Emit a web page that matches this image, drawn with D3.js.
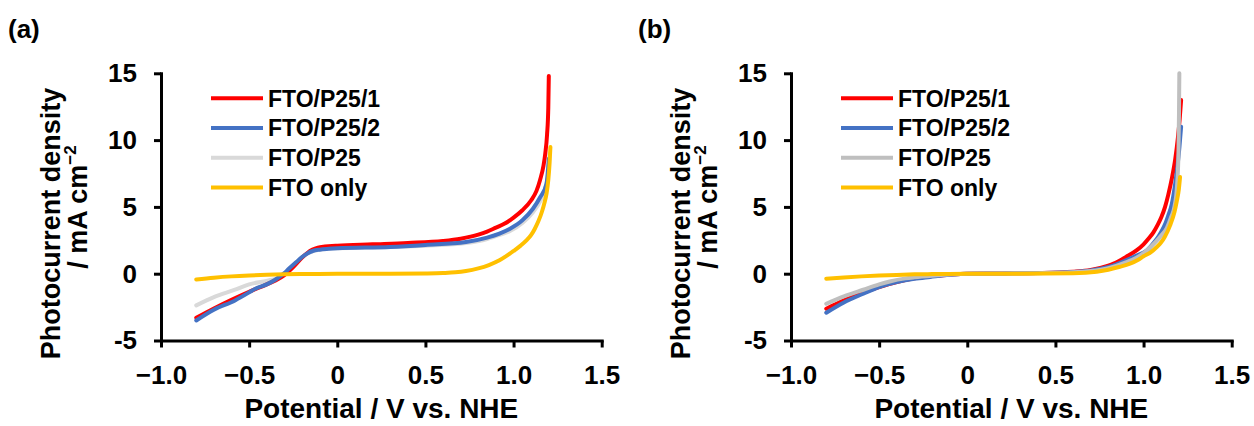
<!DOCTYPE html>
<html>
<head>
<meta charset="utf-8">
<script src="https://cdn.jsdelivr.net/npm/d3@7"></script>
<style>
  html, body { margin: 0; padding: 0; background: #fff; }
  svg { display: block; }
  text { font-family: "Liberation Sans", Arial, sans-serif; font-weight: bold; fill: #000; }
</style>
</head>
<body>
<svg id="chart" width="1254" height="426"></svg>
<script>
// Linear sweep voltammetry curves: [potential (V vs. NHE), photocurrent density (mA cm^-2)]

// Panel (a)
const a_P25_1 = [[-0.8,-3.3],[-0.7,-2.6],[-0.6,-1.95],[-0.5,-1.35],[-0.4,-0.8],[-0.35,-0.5],[-0.3,-0.1],
  [-0.25,0.5],[-0.2,1.2],[-0.17,1.55],[-0.14,1.8],[-0.11,1.95],[-0.07,2.03],[-0.03,2.08],[0,2.1],
  [0.2,2.2],[0.4,2.3],[0.6,2.45],[0.7,2.62],[0.8,2.92],[0.85,3.15],[0.9,3.45],[0.95,3.75],[1.0,4.2],
  [1.05,4.75],[1.1,5.5],[1.13,6.2],[1.15,7.0],[1.17,8.1],[1.18,9.0],[1.19,10.4],[1.197,12.4],[1.2,14.8]];
const a_P25_2 = [[-0.8,-3.5],[-0.7,-2.7],[-0.58,-2.0],[-0.5,-1.4],[-0.465,-1.12],[-0.4,-0.8],[-0.35,-0.43],
  [-0.3,0.05],[-0.275,0.37],[-0.23,0.9],[-0.2,1.25],[-0.17,1.52],[-0.14,1.7],[-0.1,1.8],[-0.05,1.86],
  [0,1.9],[0.3,2.0],[0.5,2.15],[0.73,2.37],[0.85,2.7],[0.92,3.0],[0.98,3.37],[1.05,4.0],[1.11,4.86],
  [1.15,5.7],[1.187,6.74],[1.2,8.6]];
const a_P25 = [[-0.8,-2.37],[-0.7,-1.75],[-0.58,-1.2],[-0.5,-0.8],[-0.39,-0.5],[-0.33,-0.3],[-0.3,0.0],
  [-0.25,0.6],[-0.2,1.2],[-0.17,1.5],[-0.14,1.68],[-0.1,1.8],[-0.05,1.86],[0,1.9],[0.3,2.0],[0.5,2.1],
  [0.73,2.3],[0.85,2.6],[0.92,2.9],[0.98,3.2],[1.05,3.8],[1.11,4.6],[1.15,5.4],[1.18,6.4],[1.2,8.0],[1.205,9.0]];
const a_FTO = [[-0.8,-0.43],[-0.7,-0.3],[-0.6,-0.2],[-0.5,-0.13],[-0.4,-0.08],[-0.3,-0.05],[-0.2,-0.03],
  [0,0],[0.3,0],[0.5,0.02],[0.6,0.05],[0.67,0.1],[0.73,0.2],[0.8,0.4],[0.86,0.65],[0.92,1.0],[0.96,1.33],
  [1.0,1.7],[1.04,2.1],[1.073,2.49],[1.1,2.9],[1.12,3.35],[1.14,3.9],[1.16,4.6],[1.175,5.3],[1.187,5.99],
  [1.197,7.0],[1.204,8.2],[1.209,9.48]];

// Panel (b)
const b_P25_1 = [[-0.8,-2.62],[-0.7,-2.0],[-0.6,-1.45],[-0.5,-1.0],[-0.4,-0.62],[-0.3,-0.35],[-0.2,-0.18],
  [-0.1,-0.07],[0,0],[0.2,0.02],[0.4,0.05],[0.6,0.15],[0.7,0.28],[0.8,0.6],[0.83,0.75],[0.9,1.25],
  [0.96,1.74],[1.0,2.2],[1.03,2.65],[1.056,3.1],[1.08,3.65],[1.1,4.2],[1.122,5.0],[1.14,5.9],[1.16,7.1],
  [1.18,8.6],[1.195,10.2],[1.205,11.6],[1.213,13.0]];
const b_P25_2 = [[-0.8,-2.92],[-0.7,-2.15],[-0.59,-1.5],[-0.5,-1.0],[-0.4,-0.63],[-0.3,-0.38],[-0.21,-0.24],
  [-0.1,-0.08],[0,0],[0.2,0.02],[0.4,0.05],[0.6,0.13],[0.7,0.25],[0.8,0.5],[0.9,1.0],[0.96,1.35],
  [1.018,1.74],[1.06,2.35],[1.085,2.8],[1.103,3.2],[1.125,3.8],[1.14,4.35],[1.16,5.2],[1.179,6.7],
  [1.192,8.0],[1.203,9.4],[1.213,11.0]];
const b_P25 = [[-0.8,-2.25],[-0.7,-1.7],[-0.59,-1.2],[-0.5,-0.8],[-0.44,-0.58],[-0.35,-0.35],[-0.3,-0.27],
  [-0.2,-0.15],[-0.1,-0.06],[0,0],[0.2,0.02],[0.4,0.04],[0.6,0.1],[0.7,0.2],[0.8,0.42],[0.9,0.85],
  [0.96,1.2],[1.0,1.55],[1.04,2.0],[1.07,2.4],[1.1,2.85],[1.131,3.4],[1.155,4.2],[1.175,5.0],[1.19,6.6],
  [1.198,9.0],[1.201,12.0],[1.203,15.0]];
const b_FTO = [[-0.8,-0.37],[-0.7,-0.28],[-0.6,-0.2],[-0.5,-0.14],[-0.4,-0.09],[-0.3,-0.05],[-0.2,-0.03],
  [0,0],[0.3,0],[0.6,0.03],[0.734,0.15],[0.8,0.3],[0.86,0.5],[0.923,0.75],[0.97,1.05],[1.0,1.3],
  [1.04,1.6],[1.075,2.0],[1.1,2.35],[1.12,2.75],[1.15,3.6],[1.175,4.6],[1.188,5.4],[1.2,6.3],[1.207,7.23]];

const seriesNames = ["FTO/P25/1", "FTO/P25/2", "FTO/P25", "FTO only"];
const xTickValues = [-1.0, -0.5, 0, 0.5, 1.0, 1.5];
const xTickLabels = ["\u22121.0", "\u22120.5", "0", "0.5", "1.0", "1.5"];
const yTickValues = [-5, 0, 5, 10, 15];
const yTickLabels = ["-5", "0", "5", "10", "15"];
const panelLabels = ["(a)", "(b)"];
const xTitle = "Potential / V vs. NHE";
const yTitle1 = "Photocurrent density";
const yTitle2 = "/ mA cm";
const yTitleSup = "\u22122";

const svg = d3.select("#chart");

function drawPanel(offsetX, label, data, colors, drawOrder) {
  const g = svg.append("g").attr("transform", `translate(${offsetX},0)`);
  const x = d3.scaleLinear().domain([-1, 1.5]).range([161, 601.7]);
  const y = d3.scaleLinear().domain([-5, 15]).range([340.5, 73.3]);

  // panel tag
  g.append("text").attr("x", 8).attr("y", 37.5).attr("font-size", 26).text(label);

  // curves
  const line = d3.line().x(d => x(d[0])).y(d => y(d[1])).curve(d3.curveMonotoneX);
  drawOrder.forEach(i => {
    g.append("path")
      .attr("d", line(data[i]))
      .attr("fill", "none")
      .attr("stroke", colors[i])
      .attr("stroke-width", 4)
      .attr("stroke-linejoin", "round")
      .attr("stroke-linecap", "round");
  });

  // axes
  const yAxis = d3.axisLeft(y).tickValues(yTickValues)
    .tickFormat((d, i) => yTickLabels[i]).tickSize(7).tickSizeOuter(0).tickPadding(17);
  const yg = g.append("g").attr("transform", `translate(${x(-1)},0)`).call(yAxis);
  const xAxis = d3.axisBottom(x).tickValues(xTickValues)
    .tickFormat((d, i) => xTickLabels[i]).tickSize(7).tickSizeOuter(0).tickPadding(18);
  const xg = g.append("g").attr("transform", `translate(0,${y(-5)})`).call(xAxis);
  [yg, xg].forEach(ax => {
    ax.select(".domain").attr("stroke", "#000").attr("stroke-width", 3).attr("stroke-linecap", "square");
    ax.selectAll(".tick line").attr("stroke", "#000").attr("stroke-width", 3);
    ax.selectAll(".tick text").attr("font-size", 26)
      .attr("font-family", "'Liberation Sans', Arial, sans-serif").attr("font-weight", "bold").attr("fill", "#000");
  });

  // axis titles
  g.append("text").attr("x", (x(-1) + x(1.5)) / 2).attr("y", 418)
    .attr("text-anchor", "middle").attr("font-size", 28).text(xTitle);
  g.append("text").attr("transform", "translate(60,223.5) rotate(-90)")
    .attr("text-anchor", "middle").attr("font-size", 27).text(yTitle1);
  const t2 = g.append("text").attr("transform", "translate(87,207) rotate(-90)")
    .attr("text-anchor", "middle").attr("font-size", 27);
  t2.append("tspan").text(yTitle2);
  t2.append("tspan").attr("font-size", 17).attr("dy", -11).text(yTitleSup);

  // legend
  const lg = g.append("g");
  seriesNames.forEach((name, i) => {
    const ly = 98.3 + i * 29.7;
    lg.append("line").attr("x1", 211).attr("x2", 263).attr("y1", ly).attr("y2", ly)
      .attr("stroke", colors[i]).attr("stroke-width", 4);
    lg.append("text").attr("x", 268).attr("y", ly).attr("dy", "0.36em")
      .attr("font-size", 23).text(name);
  });
}

drawPanel(0, panelLabels[0], [a_P25_1, a_P25_2, a_P25, a_FTO],
  ["#ff0000", "#4472c4", "#d9d9d9", "#ffc000"], [2, 0, 1, 3]);
drawPanel(630, panelLabels[1], [b_P25_1, b_P25_2, b_P25, b_FTO],
  ["#ff0000", "#4472c4", "#bfbfbf", "#ffc000"], [0, 1, 2, 3]);
</script>
</body>
</html>
